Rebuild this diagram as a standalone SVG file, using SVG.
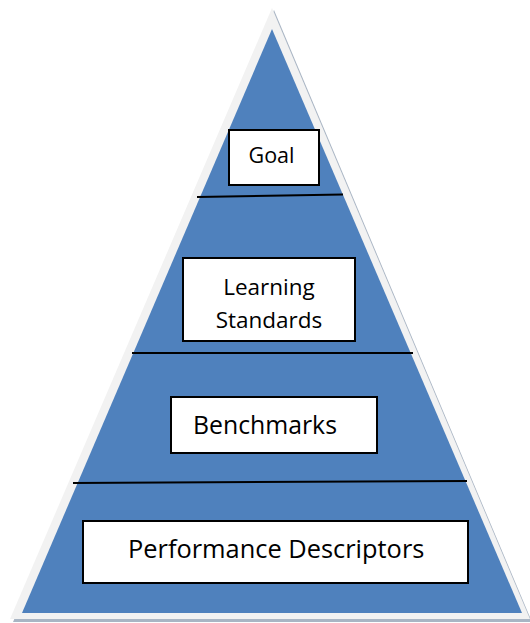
<svg xmlns="http://www.w3.org/2000/svg" width="530" height="623" viewBox="0 0 530 623">
<style>
.box{fill:#fff;stroke:#000;stroke-width:2}
.lbl{font-family:"Open Sans","Liberation Sans",sans-serif;fill:#000}
.div{stroke:#000;stroke-width:2;fill:none}
</style>
<rect width="530" height="623" fill="#fff"/>
<g id="pyramid">
<polygon points="274,10 13,622 532,622" fill="#A9B5C4"/>
<polygon points="272,8 10,619 530,619" fill="#F2F2F2"/>
<polygon points="272,29 22,613 522,613" fill="#4F81BD"/>
</g>
<g id="connectors">
<line class="div" x1="197" y1="197" x2="343" y2="194.5"/>
<line class="div" x1="132" y1="353" x2="413" y2="353"/>
<line class="div" x1="73" y1="483" x2="467" y2="481"/>
</g>
<g id="goal">
<rect class="box" x="229" y="130" width="90" height="55"/>
<text class="lbl" x="271.5" y="163" font-size="21.5" text-anchor="middle">Goal</text>
</g>
<g id="learning-standards">
<rect class="box" x="183" y="258" width="172" height="83"/>
<text class="lbl" x="269" y="295" font-size="22.5" text-anchor="middle">Learning</text>
<text class="lbl" x="269" y="328" font-size="22.5" text-anchor="middle">Standards</text>
</g>
<g id="benchmarks">
<rect class="box" x="171" y="397" width="206" height="56"/>
<text class="lbl" x="193" y="434" font-size="24.8">Benchmarks</text>
</g>
<g id="performance-descriptors">
<rect class="box" x="83" y="521" width="385" height="62"/>
<text class="lbl" x="128" y="558" font-size="25.4">Performance Descriptors</text>
</g>
</svg>
